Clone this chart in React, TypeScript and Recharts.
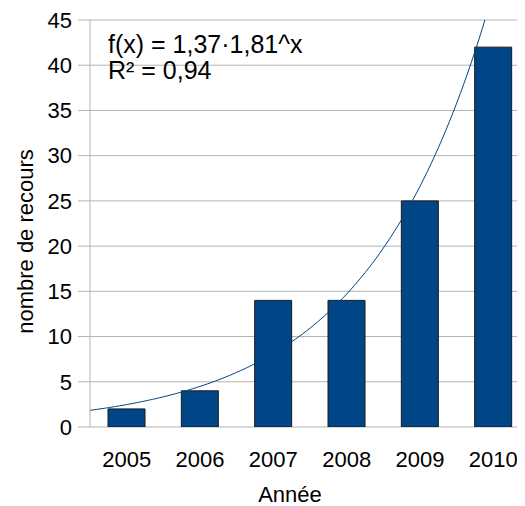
import React from 'react';
import { ComposedChart, Bar, Line, XAxis, YAxis, CartesianGrid } from 'recharts';

const years = ['2005', '2006', '2007', '2008', '2009', '2010'];
const recours = [2, 4, 14, 14, 25, 42];
const yTicks = [0, 5, 10, 15, 20, 25, 30, 35, 40, 45];
const bandEdges = [0.5, 1.5, 2.5, 3.5, 4.5, 5.5, 6.5];
// Trend line coefficients as displayed on the chart
const trendA = 1.37;
const trendB = 1.81;
const equationLines = ['f(x) = 1,37·1,81^x', 'R² = 0,94'];
const xTitle = 'Année';
const yTitle = 'nombre de recours';

const data = years.map((year, i) => ({ year, recours: recours[i] }));
const trendXs = Array.from({ length: 121 }, (_, i) => 0.5 + i * 0.05);
const trend = trendXs.map((x) => ({ x, f: trendA * Math.pow(trendB, x) }));

const FONT = '"Liberation Sans", Arial, sans-serif';
const GRID = '#b3b3b3';

export default function App() {
  return (
    <div style={{ position: 'relative', width: 540, height: 498 }}>
      <ComposedChart
        width={540}
        height={498}
        data={data}
        margin={{ top: 12, right: 18, bottom: 0, left: 0 }}
      >
        <CartesianGrid vertical={false} stroke={GRID} strokeWidth={1} />
        <XAxis
          xAxisId="num"
          type="number"
          dataKey="x"
          domain={[0.5, 6.5]}
          ticks={bandEdges}
          allowDataOverflow
          height={0}
          tickSize={11}
          tickFormatter={() => ''}
          stroke={GRID}
          tickLine={{ stroke: GRID }}
          axisLine={{ stroke: GRID }}
        />
        <XAxis
          dataKey="year"
          height={79}
          tickLine={false}
          axisLine={false}
          tickSize={0}
          tickMargin={24}
          interval={0}
          tick={{ fill: '#000', fontSize: 22, fontFamily: FONT }}
          label={{
            content: (props: any) => {
              const vb = props.viewBox || { x: 82, y: 419, width: 440, height: 79 };
              return (
                <text
                  x={vb.x + vb.width / 2 - 20}
                  y={vb.y + 75}
                  textAnchor="middle"
                  fill="#000"
                  fontSize={22}
                  fontFamily={FONT}
                >
                  {xTitle}
                </text>
              );
            },
          }}
        />
        <YAxis
          width={82}
          domain={[0, 45]}
          ticks={yTicks}
          allowDataOverflow
          interval={0}
          tickSize={12}
          tickMargin={6}
          stroke={GRID}
          tickLine={{ stroke: GRID }}
          axisLine={{ stroke: GRID }}
          tick={{ fill: '#000', fontSize: 22, fontFamily: FONT }}
          label={{
            content: (props: any) => {
              const vb = props.viewBox || { x: 0, y: 12, width: 82, height: 407 };
              const cx = vb.x + 25;
              const cy = vb.y + vb.height / 2 + 18;
              return (
                <text
                  x={cx}
                  y={cy}
                  transform={`rotate(-90, ${cx}, ${cy})`}
                  textAnchor="middle"
                  fill="#000"
                  fontSize={22}
                  fontFamily={FONT}
                >
                  {yTitle}
                </text>
              );
            },
          }}
        />
        <Bar
          dataKey="recours"
          fill="#004586"
          stroke="#1a1a1a"
          strokeWidth={1}
          barSize={37}
          isAnimationActive={false}
        />
        <Line
          xAxisId="num"
          data={trend}
          dataKey="f"
          type="linear"
          stroke="#004586"
          strokeWidth={1}
          dot={false}
          activeDot={false}
          isAnimationActive={false}
        />
      </ComposedChart>
      <div
        style={{
          position: 'absolute',
          left: 100,
          top: 23,
          fontFamily: FONT,
          fontSize: 25,
          lineHeight: '26px',
          color: '#000',
          whiteSpace: 'pre',
          pointerEvents: 'none',
        }}
      >
        {equationLines.map((l) => (
          <div key={l}>{l}</div>
        ))}
      </div>
    </div>
  );
}
